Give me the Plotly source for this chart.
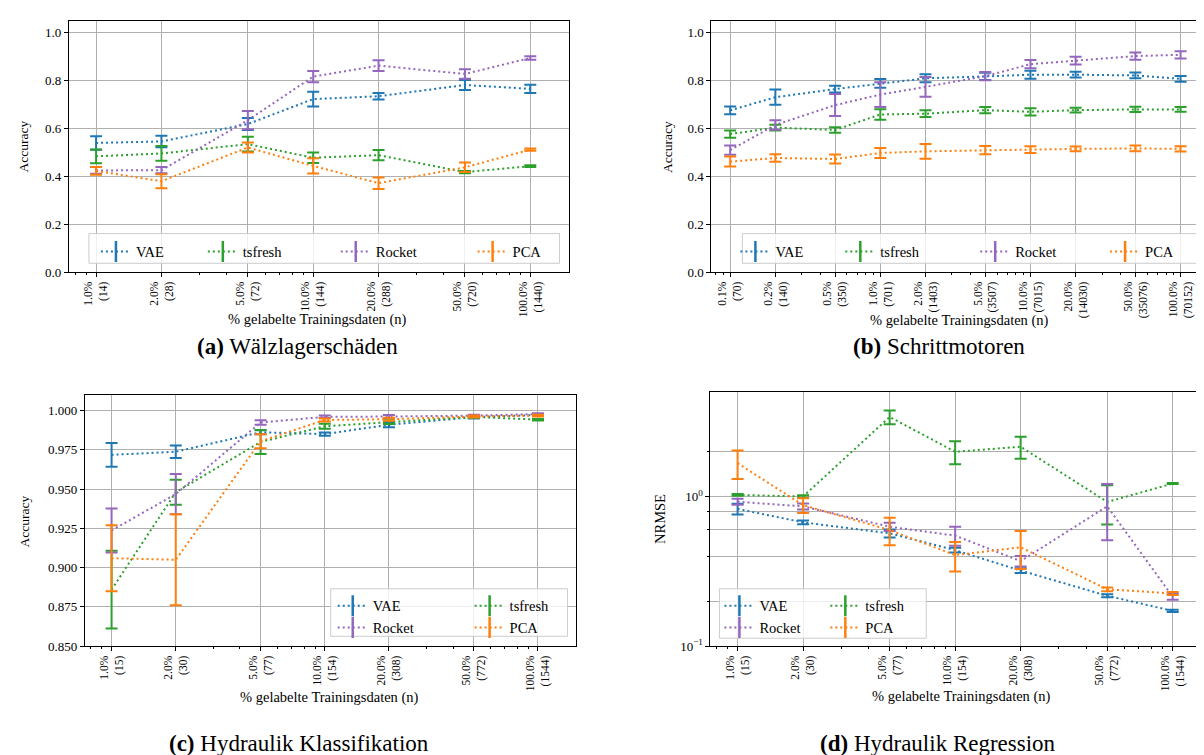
import math
import plotly.graph_objects as go

W, H = 1204, 755
FONT = "Liberation Serif"
COLORS = {"VAE": "#1f77b4", "tsfresh": "#2ca02c", "Rocket": "#9467bd", "PCA": "#ff7f0e"}
METHODS = ["VAE", "tsfresh", "Rocket", "PCA"]

# ---------------- data ----------------
# (a) Wälzlagerschäden
a_pct = [1, 2, 5, 10, 20, 50, 100]
a_n = [14, 28, 72, 144, 288, 720, 1440]
a_vae = [0.540, 0.546, 0.619, 0.723, 0.735, 0.782, 0.766]
a_vae_err = [0.028, 0.024, 0.025, 0.031, 0.014, 0.021, 0.017]
a_tsf = [0.484, 0.496, 0.535, 0.478, 0.489, 0.418, 0.443]
a_tsf_err = [0.029, 0.031, 0.031, 0.022, 0.021, 0.005, 0.004]
a_roc = [0.425, 0.426, 0.635, 0.817, 0.863, 0.828, 0.895]
a_roc_err = [0.014, 0.013, 0.038, 0.024, 0.022, 0.020, 0.007]
a_pca = [0.423, 0.380, 0.521, 0.444, 0.372, 0.438, 0.512]
a_pca_err = [0.016, 0.029, 0.021, 0.032, 0.024, 0.020, 0.005]

# (b) Schrittmotoren
b_pct = [0.1, 0.2, 0.5, 1, 2, 5, 10, 20, 50, 100]
b_n = [70, 140, 350, 701, 1403, 3507, 7015, 14030, 35076, 70152]
b_vae = [0.676, 0.731, 0.765, 0.789, 0.810, 0.818, 0.825, 0.825, 0.822, 0.808]
b_vae_err = [0.016, 0.032, 0.014, 0.018, 0.017, 0.015, 0.017, 0.012, 0.012, 0.012]
b_tsf = [0.577, 0.604, 0.594, 0.659, 0.662, 0.677, 0.670, 0.677, 0.680, 0.680]
b_tsf_err = [0.015, 0.012, 0.012, 0.022, 0.014, 0.013, 0.015, 0.010, 0.011, 0.010]
b_roc = [0.510, 0.615, 0.698, 0.742, 0.774, 0.819, 0.869, 0.884, 0.903, 0.908]
b_roc_err = [0.019, 0.020, 0.046, 0.052, 0.041, 0.017, 0.017, 0.016, 0.015, 0.015]
b_pca = [0.462, 0.477, 0.473, 0.498, 0.505, 0.510, 0.512, 0.515, 0.517, 0.515]
b_pca_err = [0.021, 0.016, 0.019, 0.021, 0.031, 0.017, 0.014, 0.010, 0.012, 0.011]

# (c) Hydraulik Klassifikation
c_pct = [1, 2, 5, 10, 20, 50, 100]
c_n = [15, 30, 77, 154, 308, 772, 1544]
c_vae = [0.9718, 0.9738, 0.9862, 0.9850, 0.9910, 0.9958, 0.9972]
c_vae_err = [0.0075, 0.0040, 0.0012, 0.0010, 0.0016, 0.0008, 0.0006]
c_tsf = [0.8860, 0.9480, 0.9800, 0.9900, 0.9926, 0.9960, 0.9942]
c_tsf_err = [0.0247, 0.0080, 0.0077, 0.0016, 0.0012, 0.0008, 0.0005]
c_roc = [0.9237, 0.9468, 0.9924, 0.9960, 0.9962, 0.9968, 0.9978]
c_roc_err = [0.0140, 0.0128, 0.0015, 0.0008, 0.0010, 0.0006, 0.0005]
c_pca = [0.9060, 0.9050, 0.9805, 0.9940, 0.9945, 0.9962, 0.9968]
c_pca_err = [0.0210, 0.0290, 0.0045, 0.0010, 0.0010, 0.0006, 0.0005]

# (d) Hydraulik Regression
d_pct = [1, 2, 5, 10, 20, 50, 100]
d_n = [15, 30, 77, 154, 308, 772, 1544]
d_vae = [0.826, 0.672, 0.567, 0.438, 0.320, 0.217, 0.172]
d_vae_err = [0.069, 0.020, 0.035, 0.016, 0.012, 0.005, 0.003]
d_tsf = [1.025, 1.000, 3.40, 1.99, 2.15, 0.92, 1.22]
d_tsf_err = [0.015, 0.020, 0.36, 0.35, 0.36, 0.27, 0.01]
d_roc = [0.923, 0.859, 0.628, 0.548, 0.370, 0.86, 0.214]
d_roc_err = [0.042, 0.040, 0.040, 0.080, 0.030, 0.35, 0.010]
d_pca = [1.67, 0.875, 0.597, 0.406, 0.458, 0.240, 0.225]
d_pca_err = [0.36, 0.10, 0.124, 0.090, 0.130, 0.007, 0.005]

# ---------------- helpers ----------------
def fx(px):
    return px / W

def fy(py):
    return 1 - py / H

XTICK = 11.5
YTICK = 13
LAB = 14.5
LEG = 14.5
TIT = 23
DASH = "2px,3px"

fig = go.Figure()

# legend ids: (a) and (b) one legend per entry; (c), (d) two column legends
panels = [
    dict(key="", pct=a_pct, n=a_n, series=[(a_vae, a_vae_err), (a_tsf, a_tsf_err), (a_roc, a_roc_err), (a_pca, a_pca_err)],
         legends=["legend", "legend2", "legend3", "legend4"]),
    dict(key="2", pct=b_pct, n=b_n, series=[(b_vae, b_vae_err), (b_tsf, b_tsf_err), (b_roc, b_roc_err), (b_pca, b_pca_err)],
         legends=["legend5", "legend6", "legend7", "legend8"]),
    dict(key="3", pct=c_pct, n=c_n, series=[(c_vae, c_vae_err), (c_tsf, c_tsf_err), (c_roc, c_roc_err), (c_pca, c_pca_err)],
         legends=["legend9", "legend10", "legend9", "legend10"]),
    dict(key="4", pct=d_pct, n=d_n, series=[(d_vae, d_vae_err), (d_tsf, d_tsf_err), (d_roc, d_roc_err), (d_pca, d_pca_err)],
         legends=["legend11", "legend12", "legend11", "legend12"]),
]

for p in panels:
    xs = [v / 100 for v in p["pct"]]
    for m, (ys, es) in zip(METHODS, p["series"]):
        fig.add_trace(go.Scatter(
            x=xs, y=ys, mode="lines", name=m,
            line=dict(color=COLORS[m], width=2, dash=DASH),
            error_y=dict(type="data", array=es, visible=True, thickness=2, width=6, color=COLORS[m]),
            xaxis="x" + p["key"], yaxis="y" + p["key"], showlegend=False,
        ))
    # legend-only entries (dotted line with an errorbar-like glyph)
    for m, lg in zip(METHODS, p["legends"]):
        fig.add_trace(go.Scatter(
            x=[None], y=[None], mode="lines+markers", name=m,
            line=dict(color=COLORS[m], width=2, dash=DASH),
            marker=dict(symbol="line-ns-open", size=15, color=COLORS[m], line=dict(color=COLORS[m], width=2.5)),
            xaxis="x" + p["key"], yaxis="y" + p["key"], legend=lg, showlegend=True,
        ))

def minor_vals(lo, hi, majors):
    vals = []
    for e in range(-5, 2):
        for k in range(1, 10):
            v = k * 10 ** e
            if lo < v < hi and all(abs(v - mj) > 1e-12 * max(1, mj) for mj in majors):
                vals.append(round(v, 10))
    return vals

def xcfg(dom, pct, n, anchor):
    majors = [v / 100 for v in pct]
    lo = majors[0] * 0.75
    hi = majors[-1] * 1.5
    return dict(
        domain=dom, type="log", range=[math.log10(lo), math.log10(hi)],
        tickmode="array", tickvals=majors,
        ticktext=[f"{v:.1f}%<br>({k})" for v, k in zip(pct, n)],
        tickangle=-90, showgrid=True, gridcolor="#b0b0b0", gridwidth=1,
        showline=True, linecolor="black", linewidth=1, mirror=True,
        ticks="outside", ticklen=4, tickcolor="black", zeroline=False,
        tickfont=dict(family=FONT, size=XTICK, color="black"),
        minor=dict(tickmode="array", tickvals=minor_vals(lo, hi, majors), ticks="outside",
                   ticklen=2, tickcolor="black", showgrid=False),
        anchor=anchor,
    )

def ycfg(dom, anchor, **kw):
    d = dict(domain=dom, showgrid=True, gridcolor="#b0b0b0", gridwidth=1,
             showline=True, linecolor="black", linewidth=1, mirror=True,
             ticks="outside", ticklen=4, tickcolor="black", zeroline=False,
             tickfont=dict(family=FONT, size=YTICK, color="black"), anchor=anchor)
    d.update(kw)
    return d

# panel pixel boxes (left, right, top, bottom)
box_a = (61, 561, 13, 267)
box_b = (704, 1200, 13, 267)
box_c = (77, 568, 391, 645)
box_d = (703, 1204, 388, 645)

def xdom(b):
    return [fx(b[0]), fx(b[1])]

def ydom(b):
    return [fy(b[3]), fy(b[2])]

d_yrange = [-1, math.log10(5)]

layout = dict(
    width=W, height=H, margin=dict(l=0, r=0, t=0, b=0),
    paper_bgcolor="white", plot_bgcolor="white",
    font=dict(family=FONT, color="black"),
    xaxis=xcfg(xdom(box_a), a_pct, a_n, "y"),
    yaxis=ycfg(ydom(box_a), "x", range=[0, 1.05], tickmode="array",
               tickvals=[0, 0.2, 0.4, 0.6, 0.8, 1.0], tickformat=".1f"),
    xaxis2=xcfg(xdom(box_b), b_pct, b_n, "y2"),
    yaxis2=ycfg(ydom(box_b), "x2", range=[0, 1.05], tickmode="array",
                tickvals=[0, 0.2, 0.4, 0.6, 0.8, 1.0], tickformat=".1f"),
    xaxis3=xcfg(xdom(box_c), c_pct, c_n, "y3"),
    yaxis3=ycfg(ydom(box_c), "x3", range=[0.85, 1.01], tickmode="linear",
                tick0=0.85, dtick=0.025, tickformat=".3f"),
    xaxis4=xcfg(xdom(box_d), d_pct, d_n, "y4"),
    yaxis4=ycfg(ydom(box_d), "x4", type="log", range=d_yrange, tickmode="array",
                tickvals=[0.1, 1],
                ticktext=["10<sup>\u22121</sup>", "10<sup>0</sup>"],
                minor=dict(tickmode="array", tickvals=[0.2, 0.4, 0.6, 0.8, 2], ticks="outside",
                           ticklen=2, tickcolor="black", showgrid=True, gridcolor="#b0b0b0", gridwidth=1)),
    # overlay axis carrying the remaining minor ticks (no grid)
    yaxis5=dict(overlaying="y4", anchor="x4", side="left", type="log", range=d_yrange,
                tickmode="array", tickvals=[0.3, 0.5, 0.7, 0.9, 3, 4], ticks="outside", ticklen=2,
                tickcolor="black", showticklabels=False, showgrid=False, showline=False, zeroline=False),
    showlegend=True,
)

leg_common = dict(xref="paper", yref="paper", xanchor="left", yanchor="top", bgcolor="rgba(0,0,0,0)",
                  borderwidth=0, font=dict(family=FONT, size=LEG, color="black"), itemsizing="trace")
# (a) / (b): one-row legends, one entry each; symbol starts at given px
for name, sx in zip(["legend", "legend2", "legend3", "legend4"], [100, 207, 340, 477]):
    layout[name] = dict(x=fx(sx - 12), y=fy(230), orientation="v", **leg_common)
for name, sx in zip(["legend5", "legend6", "legend7", "legend8"], [740, 845, 980, 1110]):
    layout[name] = dict(x=fx(sx - 12), y=fy(230), orientation="v", **leg_common)
for name, xpx in [("legend9", 325), ("legend10", 462), ("legend11", 712), ("legend12", 818)]:
    layout[name] = dict(x=fx(xpx), y=fy(588), orientation="v", tracegroupgap=0, **leg_common)

shapes = []
for (x0, x1, y0, y1) in [(81, 552, 228, 258), (735, 1193, 228, 258), (323, 560, 587, 635), (712, 919, 587, 637)]:
    shapes.append(dict(type="rect", xref="paper", yref="paper", x0=fx(x0), x1=fx(x1), y0=fy(y1), y1=fy(y0),
                       fillcolor="rgba(255,255,255,0.8)", line=dict(color="#cccccc", width=1), layer="above"))
layout["shapes"] = shapes

ann = []
def text(x, y, s, size, angle=0):
    ann.append(dict(x=fx(x), y=fy(y), xref="paper", yref="paper", text=s, showarrow=False,
                    textangle=angle, xanchor="center", yanchor="middle",
                    font=dict(family=FONT, size=size, color="black")))

# y labels
text(16, 140, "Accuracy", LAB - 1, -90)
text(660, 140, "Accuracy", LAB - 1, -90)
text(17, 519, "Accuracy", LAB - 1, -90)
text(652, 516, "NRMSE", LAB, -90)
# x labels
XL = "% gelabelte Trainingsdaten (n)"
text(310, 315, XL, LAB)
text(952, 316, XL, LAB)
text(322, 697, XL, LAB)
text(954, 696, XL, LAB)
# captions
text(290, 342, "<b>(a)</b> Wälzlagerschäden", TIT)
text(932, 342, "<b>(b)</b> Schrittmotoren", TIT)
text(291, 743, "<b>(c)</b> Hydraulik Klassifikation", TIT)
text(931, 743, "<b>(d)</b> Hydraulik Regression", TIT)
layout["annotations"] = ann

fig.update_layout(**layout)
fig.write_html("out.html")
